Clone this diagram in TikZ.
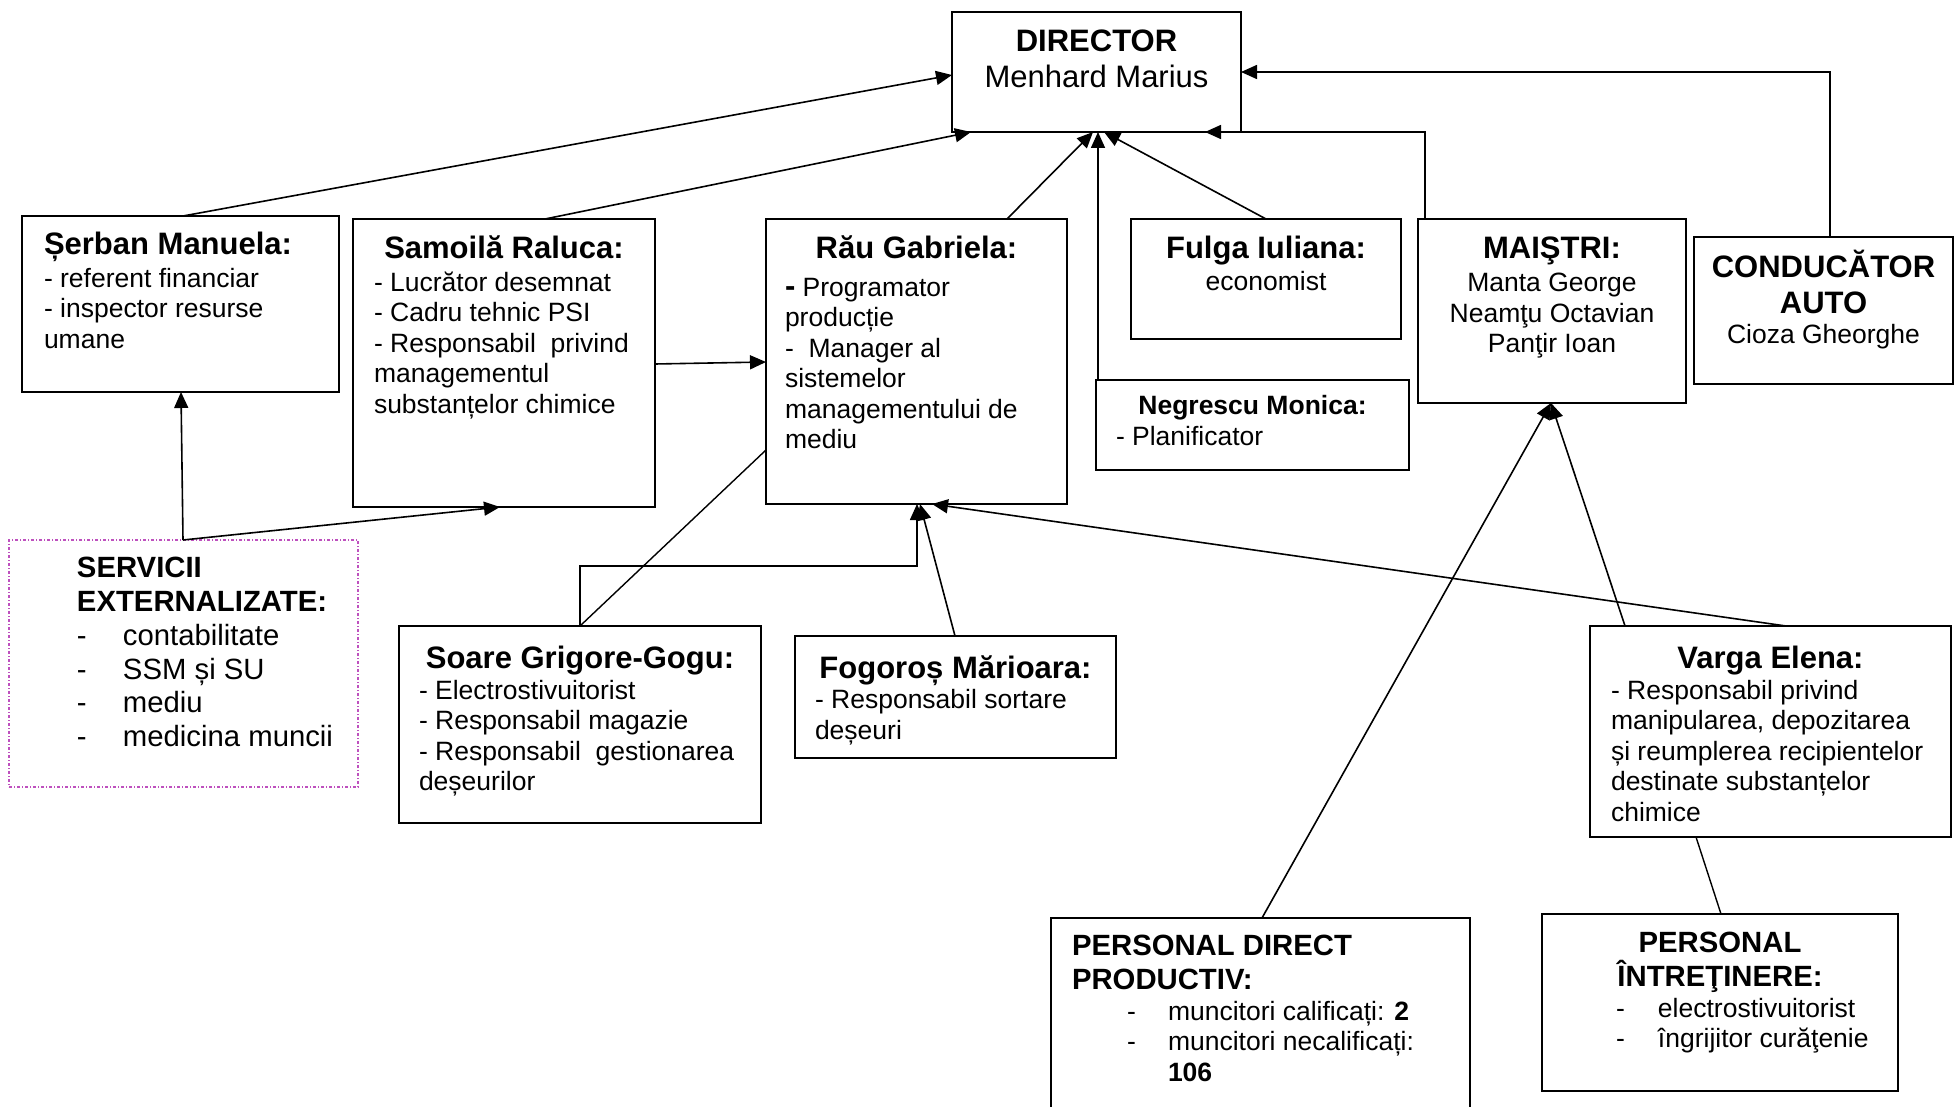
\documentclass[tikz,border=0pt]{standalone}
\usepackage{fontspec}
\setmainfont{Liberation Sans}
\usetikzlibrary{arrows.meta}
\newcommand\hd{\fontsize{31}{36}\selectfont\bfseries}
\newcommand\bd{\fontsize{26.5}{30.5}\selectfont\mdseries}
\newcommand\md{\fontsize{29.3}{33.7}\selectfont\mdseries}
\newcommand\mdb{\fontsize{29.3}{33.7}\selectfont\bfseries}
\newcommand\hdn{\fontsize{26.5}{30.5}\selectfont\bfseries}
\newcommand\cont[4]{\begin{minipage}[t][#2pt][t]{#1pt}\lineskiplimit=-100pt\vspace*{#3pt}#4\end{minipage}}
\newcommand\lft[1]{\raggedright\leftskip=#1pt\relax}
\newcommand\ctr{\centering}
\newcommand\dsh[1]{\makebox[#1pt][l]{-}}
\tikzset{
  orgbox/.style={draw, line width=2pt, inner sep=0pt, outer sep=0pt, anchor=north west},
  extbox/.style={draw=extcol, line width=1.2pt, dash pattern=on 3pt off 2pt on 1pt off 2pt, inner sep=0pt, outer sep=0pt, anchor=north west},
  arr/.style={line width=1.6pt, -{Triangle[length=16pt,width=14pt]}},
  ln/.style={line width=1.4pt}
}
\definecolor{extcol}{RGB}{190,80,190}
\begin{document}
\begin{tikzpicture}[x=1pt,y=-1pt]
\useasboundingbox[fill=white] (0,0) rectangle (1955,1107);

\node[orgbox] (dir) at (952,12) {\cont{289}{120}{14.8}{\ctr\hd\strut DIRECTOR\\ \mdseries Menhard Marius\par}};

\node[orgbox] (serban) at (22,216) {\cont{317}{176}{13.8}{\lft{22}\hd\strut Șerban Manuela:\par\vspace{2pt}\bd - referent financiar\\ - inspector resurse\\ umane\par}};

\node[orgbox] (samoila) at (353,219) {\cont{302}{288}{14.8}{\ctr\hd\strut Samoilă Raluca:\par\vspace{2pt}\lft{21}\bd - Lucrător desemnat\\ - Cadru tehnic PSI\\ - Responsabil\ \ privind\\ managementul\\ substanțelor chimice\par}};

\node[orgbox] (rau) at (766,219) {\cont{301}{285}{14.8}{\ctr\hd\strut Rău Gabriela:\par\vspace{7pt}\lft{19}\bd {\fontsize{31}{30.5}\selectfont\bfseries -} Programator\\ producție\\ -\ \ Manager al\\ sistemelor\\ managementului de\\ mediu\par}};

\node[orgbox] (fulga) at (1131,219) {\cont{270}{120}{14.8}{\ctr\hd\strut Fulga Iuliana:\par\vspace{1.5pt}\bd economist\par}};

\node[orgbox] (negr) at (1096,380) {\cont{313}{90}{13.2}{\ctr\hdn\strut Negrescu Monica:\par\lft{20}\bd - Planificator\par}};

\node[orgbox] (maistri) at (1418,219) {\cont{268}{184}{14.8}{\ctr\hd\strut MAIŞTRI:\par\vspace{2.5pt}\bd Manta George\\ Neamţu Octavian\\ Panţir Ioan\par}};

\node[orgbox] (cond) at (1694,237) {\cont{259}{147}{12.8}{\ctr\hd\strut CONDUCĂTOR\\ AUTO\par\bd Cioza Gheorghe\par}};

\node[extbox] (serv) at (9,540) {\cont{349}{247}{14.4}{\lft{68}\mdb\strut SERVICII\\ EXTERNALIZATE:\par\md \dsh{46}contabilitate\\ \dsh{46}SSM și SU\\ \dsh{46}mediu\\ \dsh{46}medicina muncii\par}};

\node[orgbox] (soare) at (399,626) {\cont{362}{197}{16.8}{\ctr\hd\strut Soare Grigore-Gogu:\par\vspace{0.5pt}\lft{20}\bd - Electrostivuitorist\\ - Responsabil magazie\\ - Responsabil\ \ gestionarea\\ deșeurilor\par}};

\node[orgbox] (fog) at (795,636) {\cont{321}{122}{16.8}{\ctr\hd\strut Fogoroș Mărioara:\par\lft{20}\bd - Responsabil sortare\\ deșeuri\par}};

\node[orgbox] (varga) at (1590,626) {\cont{361}{211}{16.8}{\ctr\hd\strut Varga Elena:\par\vspace{0.5pt}\lft{21}\bd - Responsabil privind\\ manipularea, depozitarea\\ și reumplerea recipientelor\\ destinate substanțelor\\ chimice\par}};

\node[orgbox] (pdir) at (1051,918) {\cont{419}{220}{14.4}{\lft{21}\mdb\strut PERSONAL DIRECT\\ PRODUCTIV:\par\lft{76}\bd \dsh{41}muncitori calificați: \textbf{2}\\ \dsh{41}muncitori necalificați:\\ \hspace*{41pt}\textbf{106}\par}};

\node[orgbox] (pintr) at (1542,914) {\cont{356}{177}{15.4}{\ctr\mdb\strut PERSONAL\\ ÎNTREŢINERE:\par\lft{74}\bd \dsh{42}electrostivuitorist\\ \dsh{42}îngrijitor curăţenie\par}};

% connectors to DIRECTOR
\draw[arr] ([xshift=161pt]serban.north west) -- ([yshift=-3pt]dir.west);
\draw[arr] ([xshift=192pt]samoila.north west) -- ([xshift=19pt]dir.south west);
\draw[arr] ([xshift=241pt]rau.north west) -- ([xshift=141pt]dir.south west);
\draw[arr] (fulga.north) -- ([xshift=152pt]dir.south west);
\draw[arr] ([xshift=2pt]negr.north west) -- ([xshift=146pt]dir.south west);
\draw[arr] ([xshift=7pt]maistri.north west) |- ([xshift=253pt]dir.south west);
\draw[arr] ([xshift=136pt]cond.north west) |- (dir.east);
% Samoila -> Rau
\draw[arr] ([yshift=-145pt]samoila.north east) -- ([yshift=-143pt]rau.north west);
% Servicii
\coordinate (sj) at ([xshift=174pt]serv.north west);
\draw[arr] (sj) -- ([xshift=159pt]serban.south west);
\draw[arr] (sj) -- ([xshift=147pt]samoila.south west);
% Soare
\coordinate (sp) at ([xshift=181pt]soare.north west);
\draw[arr] (sp) -- ++(0pt,60pt) -| ([xshift=151pt]rau.south west);
\draw[ln] (sp) -- ([yshift=-231pt]rau.north west);
% Fogoros, Varga -> Rau
\draw[arr] ([xshift=160pt]fog.north west) -- ([xshift=154pt]rau.south west);
\draw[arr] ([xshift=196pt]varga.north west) -- ([xshift=166pt]rau.south west);
% to MAISTRI
\draw[arr] ([xshift=35pt]varga.north west) -- ([xshift=133pt]maistri.south west);
\draw[arr] ([xshift=211pt]pdir.north west) -- ([xshift=133pt]maistri.south west);
% Varga - Personal intretinere
\draw[ln] ([xshift=106pt]varga.south west) -- ([xshift=179pt]pintr.north west);
\end{tikzpicture}
\end{document}
